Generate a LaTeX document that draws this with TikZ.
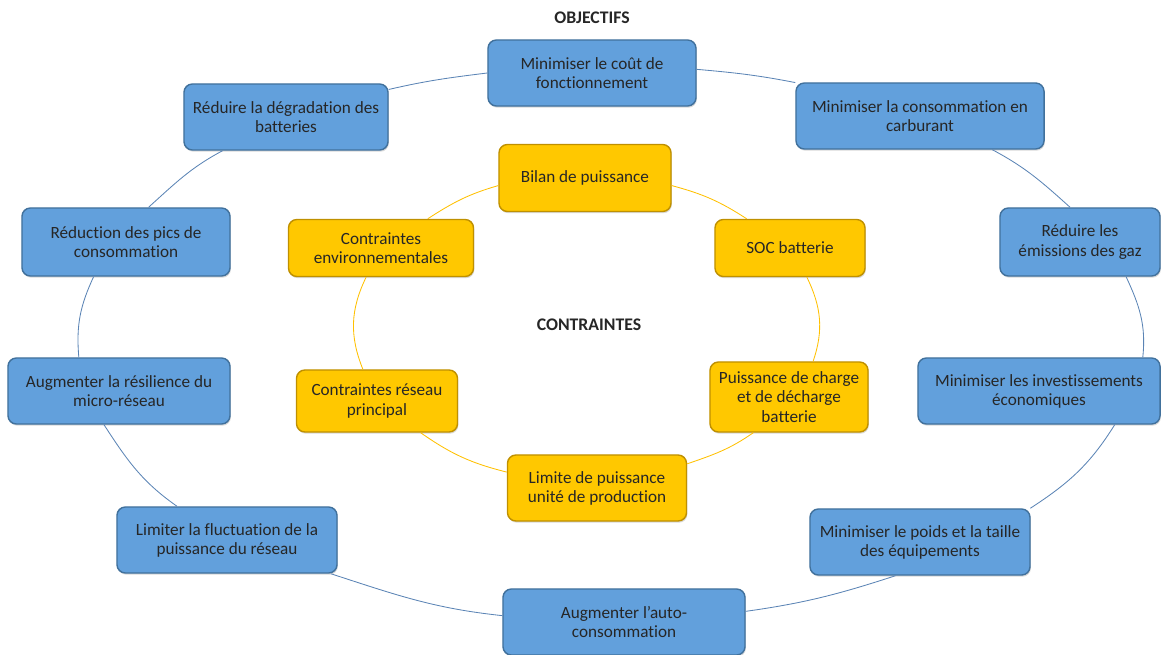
\documentclass[tikz,border=0pt]{standalone}
\usepackage{fontspec}
\setmainfont{Carlito}[Ligatures=NoCommon]
\usepackage{tikz}
\usetikzlibrary{shadows}
\definecolor{objblue}{HTML}{62A0DC}
\definecolor{objedge}{HTML}{41719C}
\definecolor{objline}{HTML}{5B84B5}
\definecolor{ctrgold}{HTML}{FFC800}
\definecolor{ctredge}{HTML}{BF9000}
\definecolor{ctrline}{HTML}{FFC000}

\begin{document}
\begin{tikzpicture}[x=0.025cm,y=0.025cm]
\tikzstyle{every node}=[font=\fontsize{12.2}{13.6}\selectfont, align=center, text=black!85];
\tikzstyle{obj}=[rectangle, rounded corners=6pt, draw=objedge, line width=1pt, fill=objblue, minimum height=1.65cm, drop shadow={opacity=0.3,shadow xshift=0.6pt,shadow yshift=-1.2pt}];
\tikzstyle{ctr}=[obj, draw=ctredge, fill=ctrgold];
\tikzstyle{objlink}=[draw=objline, line width=0.6pt];
\tikzstyle{ctrlink}=[draw=ctrline, line width=0.6pt];
\useasboundingbox (0,0) rectangle (1161,-655);
% objectifs
\path (592,-73) node[obj, minimum width=5.2cm] (cout) {Minimiser le coût de\\fonctionnement};
\path (920,-116) node[obj, minimum width=6.2cm] (carb) {Minimiser la consommation en\\carburant};
\path (1080,-242) node[obj, minimum width=4cm, minimum height=1.7cm] (gaz) {Réduire les\\émissions des gaz};
\path (1039,-391) node[obj, minimum width=6.05cm] (invest) {Minimiser les investissements\\économiques};
\path (920,-542) node[obj, minimum width=5.5cm] (poids) {Minimiser le poids et la taille\\des équipements};
\path (624,-622) node[obj, minimum width=6.05cm] (auto) {Augmenter l’auto-\\consommation};
\path (227,-540) node[obj, minimum width=5.5cm] (fluct) {Limiter la fluctuation de la\\puissance du réseau};
\path (119,-391) node[obj, minimum width=5.55cm] (resil) {Augmenter la résilience du\\micro-réseau};
\path (126,-242) node[obj, minimum width=5.2cm, minimum height=1.7cm] (pics) {Réduction des pics de\\consommation};
\path (286,-117) node[obj, minimum width=5.1cm] (degr) {Réduire la dégradation des\\batteries};
% contraintes
\path (585,-178) node[ctr, minimum width=4.3cm, minimum height=1.675cm] (bilan) {Bilan de puissance};
\path (790,-248) node[ctr, minimum width=3.75cm, minimum height=1.425cm] (soc) {SOC batterie};
\path (789,-397) node[ctr, minimum width=3.95cm, minimum height=1.75cm] (pchg) {Puissance de charge\\et de décharge\\batterie};
\path (597,-488) node[ctr, minimum width=4.475cm] (limite) {Limite de puissance\\unité de production};
\path (377,-401) node[ctr, minimum width=4.025cm, minimum height=1.55cm] (reseau) {Contraintes réseau\\principal};
\path (381,-248) node[ctr, minimum width=4.625cm, minimum height=1.425cm] (env) {Contraintes\\environnementales};
% titres
\path (592,-18) node[font=\bfseries\fontsize{12.6}{14}\selectfont] (objectifs) {OBJECTIFS};
\path (589,-325) node[font=\bfseries\fontsize{12.6}{14}\selectfont] (contraintes) {CONTRAINTES};
% anneau exterieur
\draw[objlink] (cout.2) to[out=-5,in=169] (carb.165);
\draw[objlink] (carb.-25) to[out=-28,in=138] (gaz.106);
\draw[objlink] (gaz.-37) to[out=-65,in=84] (invest.18);
\draw[objlink] (invest.-24) to[out=-122,in=33] (poids.17);
\draw[objlink] (poids.-126) to[out=-162,in=8] (auto.5);
\draw[objlink] (auto.177) to[out=174,in=-18] (fluct.-18);
\draw[objlink] (fluct.146) to[out=145,in=-57] (resil.-114);
\draw[objlink] (resil.140) to[out=95,in=245] (pics.-133);
\draw[objlink] (pics.57) to[out=42,in=208] (degr.-152);
\draw[objlink] (degr.15) to[out=13,in=187] (cout.180);
% anneau interieur
\draw[ctrlink] (bilan.-5) to[out=-15,in=147] (soc.146);
\draw[ctrlink] (soc.-60) to[out=-64,in=71] (pchg.56);
\draw[ctrlink] (pchg.-135) to[out=-145,in=19] (limite.15);
\draw[ctrlink] (limite.170) to[out=166,in=-35] (reseau.-36);
\draw[ctrlink] (reseau.114) to[out=112,in=244] (env.-117);
\draw[ctrlink] (env.32) to[out=33,in=196] (bilan.185);
\end{tikzpicture}
\end{document}
